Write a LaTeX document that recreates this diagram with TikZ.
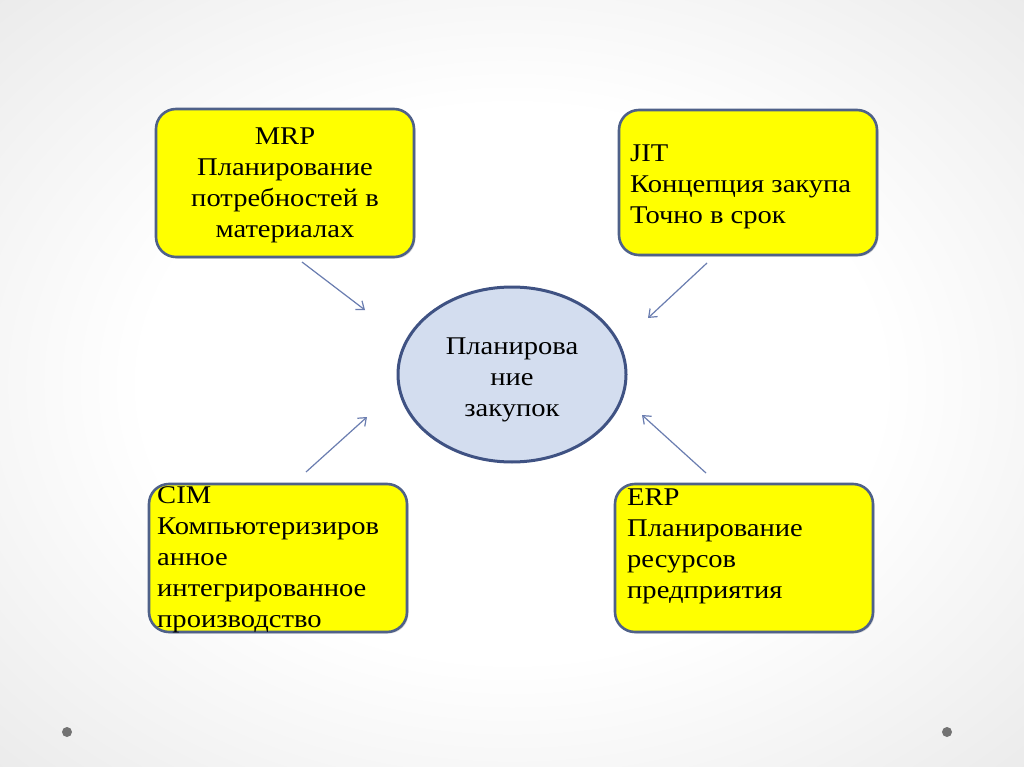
\documentclass[tikz,border=0pt]{standalone}
\usepackage{fontspec}
\setmainfont[FakeStretch=1.12]{Liberation Serif}
\usetikzlibrary{arrows.meta,shapes.geometric,shadows}

\definecolor{boxfill}{HTML}{FFFF00}
\definecolor{boxline}{HTML}{4F6189}
\definecolor{planfill}{HTML}{D3DDEF}
\definecolor{planline}{HTML}{3F5283}
\definecolor{arrline}{HTML}{6A7DB0}
\pgfdeclareradialshading{slidebg}{\pgfpoint{0bp}{0bp}}{color(0bp)=(white); color(18bp)=(white); color(72bp)=(black!24)}

\tikzset{
  methodbox/.style={draw=boxline, line width=2.6pt, fill=boxfill, rounded corners=20pt,
    minimum width=258pt, minimum height=148pt, inner sep=0pt,
    drop shadow={shadow xshift=1.5pt, shadow yshift=-1.5pt, opacity=0.25, fill=black!60}},
  boxtext/.style={font=\fontsize{25.5}{31}\selectfont, inner sep=0pt},
  plan/.style={ellipse, draw=planline, line width=3pt, fill=planfill, inner sep=0pt,
    minimum width=228pt, minimum height=175pt},
  arr/.style={draw=arrline, line width=1.2pt, -{Straight Barb[length=7pt,width=11pt]}}
}

\begin{document}
\begin{tikzpicture}[x=1pt,y=-1pt]
\shade[shading=slidebg] (0,0) rectangle (1024,767);
\useasboundingbox (0,0) rectangle (1024,767);

\node [plan] (plan) at (512,374.5) {};
\node [boxtext, align=center] (plant) at (512,380) {Планирова\\ние\\закупок};

\node [methodbox] (mrp) at (285,183) {};
\node [boxtext, anchor=north, align=center] (mrpt) at (285,128) {MRP\\Планирование\\потребностей в\\материалах};

\node [methodbox, minimum height=145pt] (jit) at (748,182.5) {};
\node [boxtext, anchor=north west, align=left] (jitt) at (630,145) {JIT\\Концепция закупа\\Точно в срок};

\node [methodbox] (cim) at (278,558) {};
\node [boxtext, anchor=north west, align=left] (cimt) at (157,486) {CIM\\Компьютеризиров\\анное\\интегрированное\\производство};

\node [methodbox] (erp) at (744,558) {};
\node [boxtext, anchor=north west, align=left] (erpt) at (627,489) {ERP\\Планирование\\ресурсов\\предприятия};

% arrows towards the ellipse
\coordinate (a1) at (302,262); \coordinate (b1) at (365,310);
\coordinate (a2) at (707,263); \coordinate (b2) at (648,318);
\coordinate (a3) at (306,472); \coordinate (b3) at (367,417);
\coordinate (a4) at (706,473); \coordinate (b4) at (642,415);
\draw [arr] (a1) -- (b1);
\draw [arr] (a2) -- (b2);
\draw [arr] (a3) -- (b3);
\draw [arr] (a4) -- (b4);

\fill [black!55] (67,732) circle (5);
\fill [black!55] (947,732) circle (5);
\end{tikzpicture}
\end{document}
